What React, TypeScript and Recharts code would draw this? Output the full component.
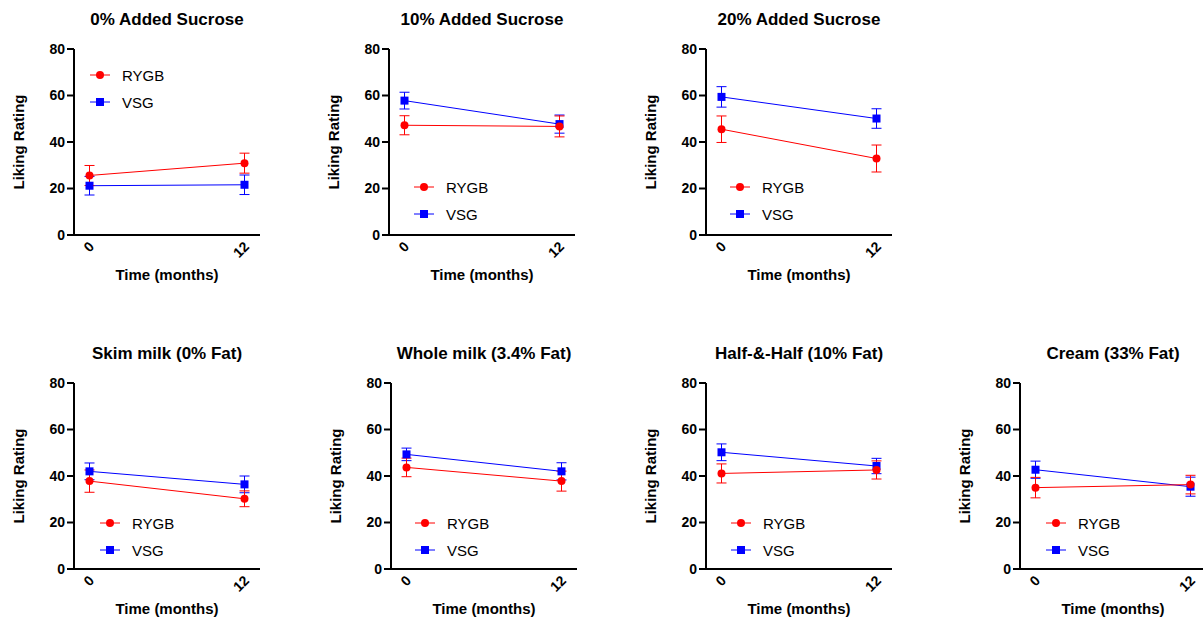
import { ErrorBar, Legend, Line, LineChart, XAxis, YAxis } from "recharts";

// Liking ratings (mean ± SEM) at baseline (0) and 12 months, one entry per panel.
const panelTitles = [
  "0% Added Sucrose",
  "10% Added Sucrose",
  "20% Added Sucrose",
  "Skim milk (0% Fat)",
  "Whole milk (3.4% Fat)",
  "Half-&-Half (10% Fat)",
  "Cream (33% Fat)",
];
const timePoints = [0, 12];
const rygbMeans = [
  [25.6, 30.9],
  [47.2, 46.7],
  [45.5, 32.9],
  [37.8, 30.2],
  [43.7, 37.8],
  [41.1, 42.6],
  [35.0, 36.3],
];
const rygbSem = [
  [4.3, 4.3],
  [4.1, 4.5],
  [5.7, 5.8],
  [4.8, 3.4],
  [4.0, 4.3],
  [4.1, 3.9],
  [4.4, 4.0],
];
const vsgMeans = [
  [21.2, 21.6],
  [57.8, 47.7],
  [59.4, 50.1],
  [42.0, 36.4],
  [49.3, 42.0],
  [50.2, 44.3],
  [42.7, 35.4],
];
const vsgSem = [
  [4.0, 4.2],
  [3.6, 3.9],
  [4.4, 4.2],
  [3.6, 3.6],
  [2.7, 3.7],
  [3.6, 3.3],
  [3.7, 4.1],
];
const yTicks = [0, 20, 40, 60, 80];

const FONT = "'Liberation Sans', Arial, Helvetica, sans-serif";
const RED = "#ff0000";
const BLUE = "#0000ff";

// layout: where each panel's y axis sits on the page
const PLOT_W = 186;
const PLOT_H = 186;
const AXIS_OFFSET = 70; // chart left edge -> plot left
const MARGIN_TOP = 49;
const panelLayout = [
  { axisX: 74, top: 0, legendX: 16, legendY: 26 },
  { axisX: 389, top: 0, legendX: 25, legendY: 138 },
  { axisX: 706, top: 0, legendX: 24, legendY: 138 },
  { axisX: 74, top: 334, legendX: 26, legendY: 140 },
  { axisX: 391, top: 334, legendX: 24, legendY: 140 },
  { axisX: 706, top: 334, legendX: 25, legendY: 140 },
  { axisX: 1020, top: 334, legendX: 26, legendY: 140 },
];

const XTick = ({ x, y, payload }: any) => {
  const ax = x + 2;
  const ay = y + 9;
  return (
    <text
      x={ax}
      y={ay}
      transform={`rotate(-45 ${ax} ${ay})`}
      textAnchor="end"
      dominantBaseline="central"
      fontFamily={FONT}
      fontSize={14}
      fontWeight={700}
      fill="#000"
    >
      {payload.value}
    </text>
  );
};

const YTitle = () => {
  const x = AXIS_OFFSET - 56;
  const y = MARGIN_TOP + PLOT_H / 2;
  return (
    <text
      x={x}
      y={y}
      transform={`rotate(-90 ${x} ${y})`}
      textAnchor="middle"
      dominantBaseline="central"
      fontFamily={FONT}
      fontSize={15}
      fontWeight={700}
      fill="#000"
    >
      Liking Rating
    </text>
  );
};

const legendItems = [
  { name: "RYGB", color: RED, shape: "circle" },
  { name: "VSG", color: BLUE, shape: "square" },
];

const LegendBox = () => (
  <div style={{ fontFamily: FONT, fontSize: 15, color: "#000" }}>
    {legendItems.map((it) => (
      <div key={it.name} style={{ display: "flex", alignItems: "center", height: 27 }}>
        <svg width={20} height={10} style={{ display: "block" }}>
          <line x1={0} x2={20} y1={5} y2={5} stroke={it.color} strokeWidth={1} />
          {it.shape === "circle" ? (
            <circle cx={10} cy={5} r={4} fill={it.color} />
          ) : (
            <rect x={6} y={1} width={8} height={8} fill={it.color} />
          )}
        </svg>
        <span style={{ marginLeft: 12, whiteSpace: "nowrap" }}>{it.name}</span>
      </div>
    ))}
  </div>
);

function Panel({ index }: { index: number }) {
  const lay = panelLayout[index];
  const data = timePoints.map((t, i) => ({
    time: t,
    rygb: rygbMeans[index][i],
    rygbErr: rygbSem[index][i],
    vsg: vsgMeans[index][i],
    vsgErr: vsgSem[index][i],
  }));

  return (
    <>
      <div
        style={{
          position: "absolute",
          left: lay.axisX,
          top: lay.top + MARGIN_TOP - 29 - 10,
          width: PLOT_W,
          lineHeight: "20px",
          textAlign: "center",
          fontFamily: FONT,
          fontSize: 17,
          fontWeight: 700,
          whiteSpace: "nowrap",
        }}
      >
        {panelTitles[index]}
      </div>
      <div style={{ position: "absolute", left: lay.axisX - AXIS_OFFSET, top: lay.top }}>
        <LineChart
          width={AXIS_OFFSET + PLOT_W + 10}
          height={MARGIN_TOP + PLOT_H + 45 + 5}
          data={data}
          margin={{ top: MARGIN_TOP, right: 10, bottom: 5, left: 10 }}
        >
          <XAxis
            dataKey="time"
            type="number"
            domain={[-1.2, 13.2]}
            ticks={timePoints}
            tickLine={false}
            tickSize={0}
            tickMargin={0}
            axisLine={{ stroke: "#000", strokeWidth: 2 }}
            tick={<XTick />}
            height={45}
            label={{
              value: "Time (months)",
              position: "insideBottom",
              offset: 0,
              fill: "#000",
              fontSize: 15,
              fontWeight: 700,
              fontFamily: FONT,
            }}
          />
          <YAxis
            type="number"
            domain={[0, 80]}
            ticks={yTicks}
            width={AXIS_OFFSET - 10}
            tickSize={7}
            tickMargin={2}
            axisLine={{ stroke: "#000", strokeWidth: 2 }}
            tickLine={{ stroke: "#000", strokeWidth: 2 }}
            tick={{ fill: "#000", fontSize: 14, fontWeight: 700, fontFamily: FONT }}
            label={{ content: <YTitle /> }}
          />
          <Legend
            layout="vertical"
            align="center"
            verticalAlign="middle"
            content={<LegendBox />}
            wrapperStyle={{
              left: AXIS_OFFSET + lay.legendX,
              top: MARGIN_TOP + lay.legendY - 13.5,
              width: "auto",
            }}
          />
          <Line
            dataKey="vsg"
            name="VSG"
            stroke={BLUE}
            strokeWidth={1}
            isAnimationActive={false}
            dot={(p: any) => (
              <rect key={`v${p.index}`} x={p.cx - 4} y={p.cy - 4} width={8} height={8} fill={BLUE} />
            )}
            activeDot={false}
          >
            <ErrorBar dataKey="vsgErr" width={5} stroke={BLUE} strokeWidth={1} isAnimationActive={false} />
          </Line>
          <Line
            dataKey="rygb"
            name="RYGB"
            stroke={RED}
            strokeWidth={1}
            isAnimationActive={false}
            dot={(p: any) => <circle key={`r${p.index}`} cx={p.cx} cy={p.cy} r={4} fill={RED} />}
            activeDot={false}
          >
            <ErrorBar dataKey="rygbErr" width={5} stroke={RED} strokeWidth={1} isAnimationActive={false} />
          </Line>
        </LineChart>
      </div>
    </>
  );
}

export default function App() {
  return (
    <div
      style={{
        position: "absolute",
        left: 0,
        top: 0,
        width: 1203,
        height: 621,
        overflow: "hidden",
        background: "#fff",
        fontFamily: FONT,
      }}
    >
      {panelTitles.map((_, i) => (
        <Panel key={i} index={i} />
      ))}
    </div>
  );
}
